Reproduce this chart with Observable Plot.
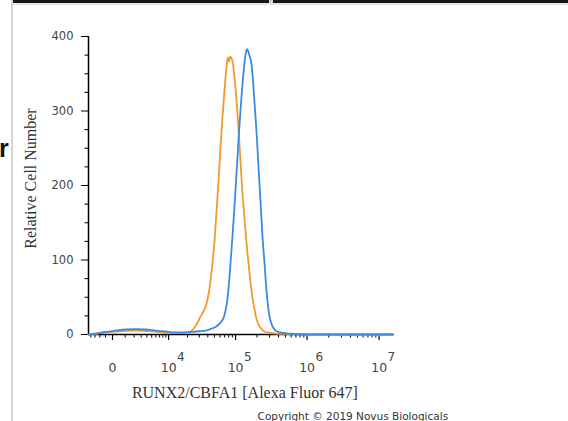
<!DOCTYPE html>
<html><head><meta charset="utf-8">
<script src="https://cdn.jsdelivr.net/npm/d3@7"></script>
<script src="https://cdn.jsdelivr.net/npm/@observablehq/plot@0.6"></script>
<style>
html,body{margin:0;padding:0;background:#fff;width:568px;height:421px;overflow:hidden;position:relative}
#chart{position:absolute;left:0;top:0}
.leftline{position:absolute;left:11px;top:0;width:2px;height:421px;background:#d6d6d6}
.topbar{position:absolute;left:13px;top:0;width:555px;height:3px;background:#1d1515}
.topgap{position:absolute;left:269px;top:0;width:4px;height:3px;background:#d0d0d0}
.topline{position:absolute;left:13px;top:3px;width:555px;height:2px;background:#e4e4e4}
.frag{position:absolute;left:-1px;top:133px;font:bold 25px "Liberation Sans",Arial,sans-serif;color:#111;line-height:30px}
</style></head><body>
<div class="leftline"></div>
<div class="topbar"></div><div class="topgap"></div><div class="topline"></div>
<div class="frag">r</div>
<div id="chart"></div>
<script>
// ---- data (fluorescence intensity, relative cell number) ----
const orangeX = [-2306,-1442,-501,201,1030,2170,3740,5900,8876,12968,18600,22170,25460,28240,31270,34960,39220,43800,46820,50040,53480,57140,61020,65180,69620,74340,77580,80700,83920,87580,91980,96600,101460,106540,111860,117400,123260,129400,138080,147300,157160,167700,180600,197160,224200,247000,281000,363400,588000,1000000,15700000];
const orangeY = [0,1,3,4,5,5.3,4.7,4,2.7,2,2.7,4,9.3,16,24,32,45,72,96,125,165,205,252,292,328,359,372,366,373,371,363,345,323,296,265,232,199,172,139,109,83,59,39,21,9,4.7,2.7,1.3,0.7,0,0];
const blueX = [-2306,-1442,-501,201,1030,2170,3740,5900,8876,12968,18600,26360,37020,43800,51740,61020,68000,71940,76060,80700,84760,90480,96600,103120,110060,117400,125280,133660,140340,145940,152160,159740,167700,176060,184780,197160,210400,224200,239000,255000,272000,294800,326800,363400,426600,588000,1000000,15700000];
const blueY = [0,1.3,3.3,5.3,6.7,7.3,6.7,5.3,4,2.7,2.7,4,5.3,7.3,10,16,23,32,45,69,96,132,172,216,261,301,336,365,379,383,379,372,363,341,312,272,225,179,132,96,59,28,12,5.3,2.7,1,0,0];

const xDomain = [-2306, 15700000];
const xZero = [0];
const xPow = [1e4, 1e5, 1e6, 1e7];
const xExp = ["4", "5", "6", "7"];
const xMajor = [0, 1e4, 1e5, 1e6, 1e7];
const xMinor = [-2000,-1500,-1000,-500,
  1000,2000,3000,4000,5000,6000,7000,8000,9000,
  2e4,3e4,4e4,5e4,6e4,7e4,8e4,9e4,
  2e5,3e5,4e5,5e5,6e5,7e5,8e5,9e5,
  2e6,3e6,4e6,5e6,6e6,7e6,8e6,9e6];
const yMajor = [0,100,200,300,400];
const yMinor = [25,50,75,125,150,175,225,250,275,325,350,375];

const xTitle = "RUNX2/CBFA1 [Alexa Fluor 647]";
const yTitle = "Relative Cell Number";
const credit = "Copyright \u00A9 2019 Novus Biologicals";

const orange = orangeX.map((x, i) => ({x, y: orangeY[i]}));
const blue = blueX.map((x, i) => ({x, y: blueY[i]}));

const ORANGE = "#f39a2c", BLUE = "#3a8be4";
const sans = "DejaVu Sans", serif = "Liberation Serif";

const chart = Plot.plot({
  width: 568, height: 421,
  marginLeft: 88, marginRight: 175.3, marginTop: 36, marginBottom: 87,
  style: {fontFamily: sans, background: "none", color: "#000"},
  x: {type: "symlog", constant: 2000, domain: xDomain},
  y: {type: "linear", domain: [0, 400]},
  marks: [
    Plot.ruleY([0], {stroke: "#000", strokeWidth: 1.5}),
    Plot.ruleX([xDomain[0]], {stroke: "#000", strokeWidth: 1.5}),
    Plot.axisX(xMinor, {tickSize: 3.5, fill: "none", stroke: "#000"}),
    Plot.axisX(xMajor, {tickSize: 6, fill: "none", stroke: "#000", strokeWidth: 1.2}),
    Plot.axisY(yMinor, {tickSize: 3.5, fill: "none", stroke: "#000"}),
    Plot.axisY(yMajor, {tickSize: 7, tickPadding: 8, fontSize: 11.5, fontFamily: sans, fill: "#444", stroke: "#000", label: null}),
    Plot.text(xZero, {x: d => d, y: () => 0, text: () => "0", dy: 33, fontSize: 12.5, fill: "#444", fontFamily: sans}),
    Plot.text(xPow, {x: d => d, y: () => 0, text: () => "10", textAnchor: "end", dx: 8, dy: 33, fontSize: 12.5, fill: "#444", fontFamily: sans}),
    Plot.text(xPow, {x: d => d, y: () => 0, text: (d, i) => xExp[i], textAnchor: "start", dx: 8.5, dy: 23, fontSize: 12, fill: "#444", fontFamily: sans}),
    Plot.line(orange, {x: "x", y: "y", stroke: ORANGE, strokeWidth: 1.8, curve: "monotone-x"}),
    Plot.line(blue, {x: "x", y: "y", stroke: BLUE, strokeWidth: 1.8, curve: "monotone-x"}),
    Plot.text([yTitle], {text: d => d, frameAnchor: "left", textAnchor: "middle", lineAnchor: "middle", rotate: -90, dx: -58, dy: -7, fontFamily: serif, fontSize: 16, fill: "#333"}),
    Plot.text([xTitle], {text: d => d, frameAnchor: "bottom", textAnchor: "middle", lineAnchor: "middle", dx: 4, dy: 58, fontFamily: serif, fontSize: 16, fill: "#333"}),
    Plot.text([credit], {text: d => d, frameAnchor: "bottom", textAnchor: "start", lineAnchor: "middle", dx: 16.7, dy: 82, fontFamily: sans, fontSize: 10.5, fill: "#333"})
  ]
});
document.getElementById("chart").appendChild(chart);
</script>
</body></html>
